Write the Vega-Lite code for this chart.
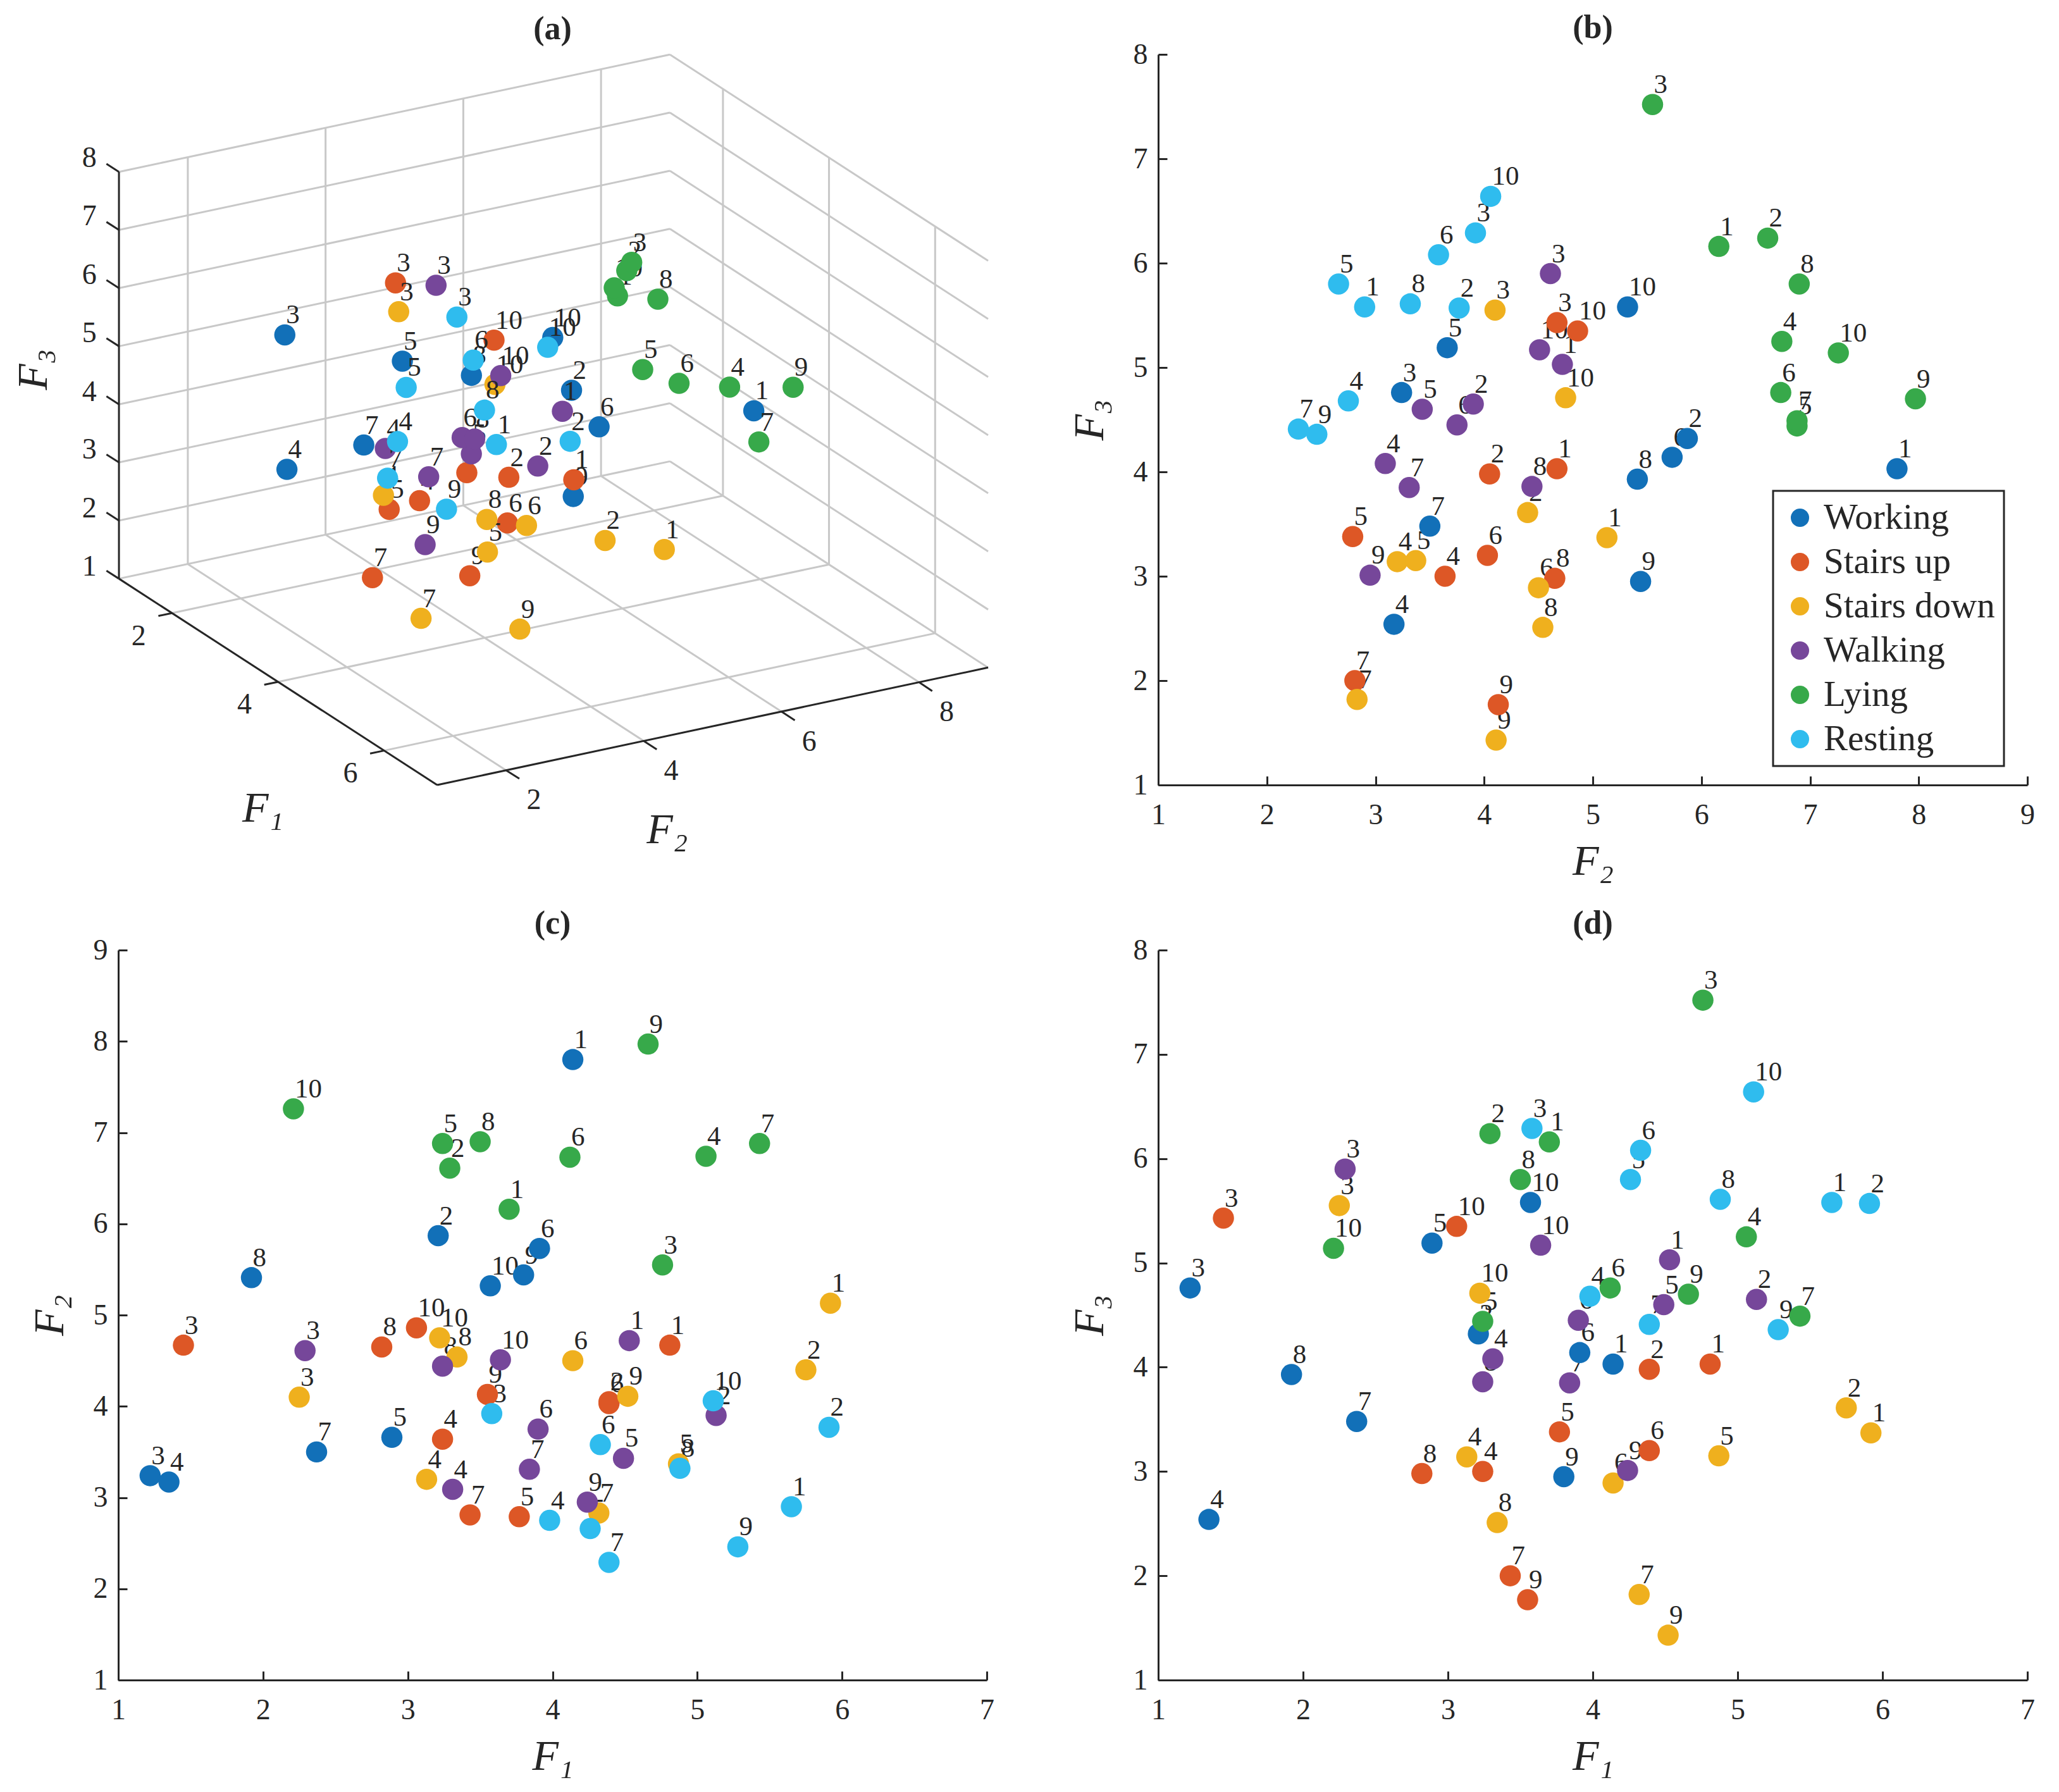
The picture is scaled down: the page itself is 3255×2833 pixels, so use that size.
{"$schema":"https://vega.github.io/schema/vega-lite/v6.json","background":"white","padding":{"left":19,"top":18,"right":0,"bottom":0},
"config":{"font":"Liberation Serif","view":{"stroke":null},"legend":{"strokeWidth":3},"title":{"anchor":"middle","fontSize":52,"fontWeight":"bold","color":"#262626","offset":-8,"font":"Liberation Serif"},
"axis":{"grid":false,"domainColor":"#262626","tickColor":"#262626","domainWidth":3,"tickWidth":3,"tickSize":-14,"labelColor":"#262626","titleColor":"#262626","labelFont":"Liberation Serif","titleFont":"Liberation Serif","labelFontSize":46,"titleFontSize":68,"titleFontStyle":"italic","titleFontWeight":"normal","labelFlush":false,"labelOverlap":false},
"axisX":{"labelPadding":39,"titlePadding":17,"labelAngle":0},"axisY":{"labelPadding":31,"titlePadding":34},
"text":{"font":"Liberation Serif","color":"#262626"}},
"datasets":{"pts":[
{"a":"Working","n":1,"F1":4.14,"F2":7.80,"F3":4.03,"u":1146.6,"v":717.0},{"a":"Working","n":2,"F1":3.21,"F2":5.87,"F3":4.32,"u":869.4,"v":681.2},{"a":"Working","n":3,"F1":1.22,"F2":3.24,"F3":4.76,"u":433.3,"v":584.5},{"a":"Working","n":4,"F1":1.35,"F2":3.17,"F3":2.54,"u":436.5,"v":819.2},{"a":"Working","n":5,"F1":2.89,"F2":3.66,"F3":5.19,"u":612.1,"v":630.3},{"a":"Working","n":6,"F1":3.91,"F2":5.73,"F3":4.14,"u":911.3,"v":745.0},{"a":"Working","n":7,"F1":2.37,"F2":3.50,"F3":3.48,"u":553.4,"v":776.7},{"a":"Working","n":8,"F1":1.92,"F2":5.41,"F3":3.93,"u":717.1,"v":655.1},{"a":"Working","n":9,"F1":3.80,"F2":5.44,"F3":2.95,"u":872.0,"v":866.5},{"a":"Working","n":10,"F1":3.57,"F2":5.32,"F3":5.58,"u":840.8,"v":589.1},
{"a":"Stairs up","n":1,"F1":4.81,"F2":4.67,"F3":4.03,"u":872.8,"v":837.3},{"a":"Stairs up","n":2,"F1":4.39,"F2":4.05,"F3":3.98,"u":774.0,"v":833.0},{"a":"Stairs up","n":3,"F1":1.45,"F2":4.67,"F3":5.43,"u":601.7,"v":493.7},{"a":"Stairs up","n":4,"F1":3.24,"F2":3.64,"F3":3.00,"u":638.2,"v":873.9},{"a":"Stairs up","n":5,"F1":3.77,"F2":2.79,"F3":3.38,"u":592.0,"v":889.0},{"a":"Stairs up","n":6,"F1":4.39,"F2":4.03,"F3":3.20,"u":771.9,"v":912.7},{"a":"Stairs up","n":7,"F1":3.43,"F2":2.81,"F3":2.00,"u":566.6,"v":1008.1},{"a":"Stairs up","n":8,"F1":2.82,"F2":4.65,"F3":2.98,"u":710.1,"v":825.0},{"a":"Stairs up","n":9,"F1":3.55,"F2":4.13,"F3":1.77,"u":714.6,"v":1004.8},{"a":"Stairs up","n":10,"F1":3.06,"F2":4.86,"F3":5.35,"u":751.5,"v":593.6},
{"a":"Stairs down","n":1,"F1":5.92,"F2":5.13,"F3":3.37,"u":1010.5,"v":959.1},{"a":"Stairs down","n":2,"F1":5.75,"F2":4.40,"F3":3.61,"u":920.4,"v":943.3},{"a":"Stairs down","n":3,"F1":2.25,"F2":4.10,"F3":5.55,"u":606.5,"v":544.1},{"a":"Stairs down","n":4,"F1":3.13,"F2":3.20,"F3":3.14,"u":583.3,"v":864.4},{"a":"Stairs down","n":5,"F1":4.87,"F2":3.37,"F3":3.15,"u":741.5,"v":963.4},{"a":"Stairs down","n":6,"F1":4.14,"F2":4.50,"F3":2.89,"u":800.9,"v":917.1},{"a":"Stairs down","n":7,"F1":4.32,"F2":2.83,"F3":1.82,"u":640.5,"v":1079.2},{"a":"Stairs down","n":8,"F1":3.34,"F2":4.54,"F3":2.51,"u":740.6,"v":906.6},{"a":"Stairs down","n":9,"F1":4.52,"F2":4.11,"F3":1.43,"u":790.8,"v":1098.0},{"a":"Stairs down","n":10,"F1":3.22,"F2":4.75,"F3":4.71,"u":752.9,"v":670.9},
{"a":"Walking","n":1,"F1":4.53,"F2":4.72,"F3":5.03,"u":855.5,"v":717.8},{"a":"Walking","n":2,"F1":5.13,"F2":3.90,"F3":4.65,"u":818.0,"v":813.4},{"a":"Walking","n":3,"F1":2.29,"F2":4.61,"F3":5.90,"u":663.3,"v":498.0},{"a":"Walking","n":4,"F1":3.31,"F2":3.09,"F3":4.08,"u":586.2,"v":782.7},{"a":"Walking","n":5,"F1":4.49,"F2":3.43,"F3":4.60,"u":717.0,"v":792.1},{"a":"Walking","n":6,"F1":3.90,"F2":3.75,"F3":4.45,"u":703.0,"v":763.7},{"a":"Walking","n":7,"F1":3.84,"F2":3.31,"F3":3.85,"u":652.1,"v":832.2},{"a":"Walking","n":8,"F1":3.24,"F2":4.44,"F3":3.86,"u":722.0,"v":766.2},{"a":"Walking","n":9,"F1":4.24,"F2":2.95,"F3":3.01,"u":646.7,"v":950.6},{"a":"Walking","n":10,"F1":3.64,"F2":4.51,"F3":5.17,"u":761.7,"v":655.5},
{"a":"Lying","n":1,"F1":3.70,"F2":6.16,"F3":6.16,"u":939.3,"v":516.5},{"a":"Lying","n":2,"F1":3.29,"F2":6.61,"F3":6.24,"u":953.4,"v":472.3},{"a":"Lying","n":3,"F1":4.76,"F2":5.55,"F3":7.52,"u":960.9,"v":457.8},{"a":"Lying","n":4,"F1":5.06,"F2":6.74,"F3":5.25,"u":1109.8,"v":675.6},{"a":"Lying","n":5,"F1":3.24,"F2":6.88,"F3":4.44,"u":977.6,"v":645.0},{"a":"Lying","n":6,"F1":4.12,"F2":6.73,"F3":4.76,"u":1032.9,"v":669.1},{"a":"Lying","n":7,"F1":5.43,"F2":6.88,"F3":4.49,"u":1154.3,"v":771.3},{"a":"Lying","n":8,"F1":3.50,"F2":6.90,"F3":5.80,"u":1000.7,"v":522.1},{"a":"Lying","n":9,"F1":4.66,"F2":7.97,"F3":4.70,"u":1206.4,"v":675.9},{"a":"Lying","n":10,"F1":2.21,"F2":7.26,"F3":5.14,"u":934.3,"v":502.4},
{"a":"Resting","n":1,"F1":5.65,"F2":2.90,"F3":5.58,"u":755.1,"v":775.9},{"a":"Resting","n":2,"F1":5.91,"F2":3.77,"F3":5.57,"u":867.3,"v":770.2},{"a":"Resting","n":3,"F1":3.58,"F2":3.92,"F3":6.29,"u":695.0,"v":553.4},{"a":"Resting","n":4,"F1":3.98,"F2":2.75,"F3":4.68,"u":604.7,"v":770.7},{"a":"Resting","n":5,"F1":4.26,"F2":2.66,"F3":5.80,"u":617.9,"v":676.2},{"a":"Resting","n":6,"F1":4.33,"F2":3.58,"F3":6.08,"u":719.9,"v":628.5},{"a":"Resting","n":7,"F1":4.39,"F2":2.29,"F3":4.41,"u":589.6,"v":834.5},{"a":"Resting","n":8,"F1":4.88,"F2":3.32,"F3":5.61,"u":737.0,"v":715.8},{"a":"Resting","n":9,"F1":5.28,"F2":2.46,"F3":4.36,"u":679.2,"v":888.6},{"a":"Resting","n":10,"F1":5.11,"F2":4.06,"F3":6.64,"u":833.1,"v":606.2}
],
"grid":[
{"u":261.7,"v":1070,"u2":1099.7,"v2":865.2},{"u":423,"v":1190,"u2":1261,"v2":985.2},{"u":584.4,"v":1310,"u2":1422.4,"v2":1105.2},
{"u":285.75,"v":984.4,"u2":769.8,"v2":1344.4},{"u":495.25,"v":933.2,"u2":979.3,"v2":1293.2},{"u":704.75,"v":882,"u2":1188.8,"v2":1242},{"u":914.25,"v":830.8,"u2":1398.3,"v2":1190.8},
{"u":181,"v":1010,"u2":1019,"v2":805.2},{"u":1019,"v":805.2,"u2":1503,"v2":1165.2},
{"u":285.75,"v":984.4,"u2":285.75,"v2":274.4},{"u":495.25,"v":933.2,"u2":495.25,"v2":223.2},{"u":704.75,"v":882,"u2":704.75,"v2":172},{"u":914.25,"v":830.8,"u2":914.25,"v2":120.8},
{"u":1099.7,"v":865.2,"u2":1099.7,"v2":155.2},{"u":1261,"v":985.2,"u2":1261,"v2":275.2},{"u":1422.4,"v":1105.2,"u2":1422.4,"v2":395.2},
{"u":181,"v":908.6,"u2":1019,"v2":703.8},{"u":1019,"v":703.8,"u2":1503,"v2":1063.8},
{"u":181,"v":807.1,"u2":1019,"v2":602.3},{"u":1019,"v":602.3,"u2":1503,"v2":962.3},
{"u":181,"v":705.7,"u2":1019,"v2":500.9},{"u":1019,"v":500.9,"u2":1503,"v2":860.9},
{"u":181,"v":604.3,"u2":1019,"v2":399.5},{"u":1019,"v":399.5,"u2":1503,"v2":759.5},
{"u":181,"v":502.9,"u2":1019,"v2":298.1},{"u":1019,"v":298.1,"u2":1503,"v2":658.1},
{"u":181,"v":401.4,"u2":1019,"v2":196.6},{"u":1019,"v":196.6,"u2":1503,"v2":556.6},
{"u":181,"v":300,"u2":1019,"v2":95.2},{"u":1019,"v":95.2,"u2":1503,"v2":455.2}
],
"axes":[
{"u":181,"v":1010,"u2":181,"v2":300},{"u":181,"v":1010,"u2":665,"v2":1370},{"u":665,"v":1370,"u2":1503,"v2":1165},
{"u":181,"v":1010,"u2":162,"v2":996},{"u":181,"v":908.6,"u2":162,"v2":894.6},{"u":181,"v":807.1,"u2":162,"v2":793.1},{"u":181,"v":705.7,"u2":162,"v2":691.7},{"u":181,"v":604.3,"u2":162,"v2":590.3},{"u":181,"v":502.9,"u2":162,"v2":488.9},{"u":181,"v":401.4,"u2":162,"v2":387.4},{"u":181,"v":300,"u2":162,"v2":286},
{"u":261.7,"v":1070,"u2":241,"v2":1075},{"u":423,"v":1190,"u2":402,"v2":1195},{"u":584.4,"v":1310,"u2":563,"v2":1315},
{"u":769.8,"v":1344.4,"u2":790,"v2":1359},{"u":979.3,"v":1293.2,"u2":999,"v2":1308},{"u":1188.8,"v":1242,"u2":1209,"v2":1257},{"u":1398.3,"v":1190.8,"u2":1418,"v2":1206}
],
"ticks":[
{"t":"1","u":136,"v":989},{"t":"2","u":136,"v":888},{"t":"3","u":136,"v":785},{"t":"4","u":136,"v":684},{"t":"5","u":136,"v":582},{"t":"6","u":136,"v":480},{"t":"7","u":136,"v":378},{"t":"8","u":136,"v":276},
{"t":"2","u":211,"v":1111},{"t":"4","u":372,"v":1230},{"t":"6","u":533,"v":1350},
{"t":"2","u":812,"v":1396},{"t":"4","u":1021,"v":1346},{"t":"6","u":1231,"v":1295},{"t":"8","u":1440,"v":1243}
],
"titles":[{"t":"F₁","u":400,"v":1412},{"t":"F₂","u":1015,"v":1450}],
"titley":[{"t":"F₃","u":52,"v":645}]
},
"columns":2,"spacing":{"row":261,"column":271},"bounds":"flush",
"concat":[
{"width":1373,"height":1155,"title":{"text":"(a)","offset":12},"encoding":{"x":{"field":"u","type":"quantitative","scale":{"domain":[180,1501],"nice":false,"zero":false},"axis":null},"y":{"field":"v","type":"quantitative","scale":{"domain":[1370,95],"nice":false,"zero":false},"axis":null}},
"layer":[
{"data":{"name":"grid"},"mark":{"type":"rule","color":"#c8c8c8","strokeWidth":3},"encoding":{"x2":{"field":"u2"},"y2":{"field":"v2"}}},
{"data":{"name":"axes"},"mark":{"type":"rule","color":"#262626","strokeWidth":3},"encoding":{"x2":{"field":"u2"},"y2":{"field":"v2"}}},
{"data":{"name":"ticks"},"mark":{"type":"text","fontSize":46,"align":"center","baseline":"middle"},"encoding":{"text":{"field":"t"}}},
{"data":{"name":"titles"},"mark":{"type":"text","fontSize":68,"fontStyle":"italic","align":"center","baseline":"middle"},"encoding":{"text":{"field":"t"}}},
{"data":{"name":"titley"},"mark":{"type":"text","fontSize":68,"fontStyle":"italic","align":"center","baseline":"middle","angle":270},"encoding":{"text":{"field":"t"}}},
{"data":{"name":"pts"},"transform":[{"filter":{"field":"a","equal":"Working"}}],"mark":{"type":"text","fontSize":43,"align":"left","baseline":"alphabetic","dx":2,"dy":-18},"encoding":{"text":{"field":"n"}}},
{"data":{"name":"pts"},"transform":[{"filter":{"field":"a","equal":"Working"}}],"mark":{"type":"point","filled":true,"opacity":1,"size":1122,"color":"#1270B8"}},
{"data":{"name":"pts"},"transform":[{"filter":{"field":"a","equal":"Stairs up"}}],"mark":{"type":"text","fontSize":43,"align":"left","baseline":"alphabetic","dx":2,"dy":-18},"encoding":{"text":{"field":"n"}}},
{"data":{"name":"pts"},"transform":[{"filter":{"field":"a","equal":"Stairs up"}}],"mark":{"type":"point","filled":true,"opacity":1,"size":1122,"color":"#DD5726"}},
{"data":{"name":"pts"},"transform":[{"filter":{"field":"a","equal":"Stairs down"}}],"mark":{"type":"text","fontSize":43,"align":"left","baseline":"alphabetic","dx":2,"dy":-18},"encoding":{"text":{"field":"n"}}},
{"data":{"name":"pts"},"transform":[{"filter":{"field":"a","equal":"Stairs down"}}],"mark":{"type":"point","filled":true,"opacity":1,"size":1122,"color":"#EFB01E"}},
{"data":{"name":"pts"},"transform":[{"filter":{"field":"a","equal":"Walking"}}],"mark":{"type":"text","fontSize":43,"align":"left","baseline":"alphabetic","dx":2,"dy":-18},"encoding":{"text":{"field":"n"}}},
{"data":{"name":"pts"},"transform":[{"filter":{"field":"a","equal":"Walking"}}],"mark":{"type":"point","filled":true,"opacity":1,"size":1122,"color":"#76479A"}},
{"data":{"name":"pts"},"transform":[{"filter":{"field":"a","equal":"Lying"}}],"mark":{"type":"text","fontSize":43,"align":"left","baseline":"alphabetic","dx":2,"dy":-18},"encoding":{"text":{"field":"n"}}},
{"data":{"name":"pts"},"transform":[{"filter":{"field":"a","equal":"Lying"}}],"mark":{"type":"point","filled":true,"opacity":1,"size":1122,"color":"#37A94A"}},
{"data":{"name":"pts"},"transform":[{"filter":{"field":"a","equal":"Resting"}}],"mark":{"type":"text","fontSize":43,"align":"left","baseline":"alphabetic","dx":2,"dy":-18},"encoding":{"text":{"field":"n"}}},
{"data":{"name":"pts"},"transform":[{"filter":{"field":"a","equal":"Resting"}}],"mark":{"type":"point","filled":true,"opacity":1,"size":1122,"color":"#2FBCEE"}}
]},
{"width":1374,"height":1155,"title":"(b)","data":{"name":"pts"},"encoding":{"x":{"field":"F2","type":"quantitative","scale":{"domain":[1,9],"nice":false,"zero":false},"axis":{"values":[1,2,3,4,5,6,7,8,9],"title":"F₂"}},"y":{"field":"F3","type":"quantitative","scale":{"domain":[1,8],"nice":false,"zero":false},"axis":{"values":[1,2,3,4,5,6,7,8],"title":"F₃"}}},
"layer":[
{"mark":{"type":"text","fontSize":43,"align":"left","baseline":"alphabetic","dx":2,"dy":-18},"encoding":{"text":{"field":"n"}}},
{"mark":{"type":"point","filled":true,"opacity":1,"size":1122},"encoding":{"color":{"field":"a","type":"nominal","scale":{"domain":["Working","Stairs up","Stairs down","Walking","Lying","Resting"],"range":["#1270B8","#DD5726","#EFB01E","#76479A","#37A94A","#2FBCEE"]},"legend":{"orient":"none","legendX":2616,"legendY":690,"title":null,"symbolType":"circle","symbolSize":841,"symbolStrokeWidth":0,"symbolOpacity":1,"labelFontSize":57,"labelFont":"Liberation Serif","labelColor":"#262626","rowPadding":12,"padding":14,"symbolOffset":0,"labelOffset":9,"strokeColor":"#262626","fillColor":"white","labelLimit":400,"labelExpr":"datum.label + '\u00a0'"}}}}
]},
{"width":1373,"height":1154,"title":"(c)","data":{"name":"pts"},"encoding":{"x":{"field":"F1","type":"quantitative","scale":{"domain":[1,7],"nice":false,"zero":false},"axis":{"values":[1,2,3,4,5,6,7],"title":"F₁"}},"y":{"field":"F2","type":"quantitative","scale":{"domain":[1,9],"nice":false,"zero":false},"axis":{"values":[1,2,3,4,5,6,7,8,9],"title":"F₂"}}},
"layer":[
{"mark":{"type":"text","fontSize":43,"align":"left","baseline":"alphabetic","dx":2,"dy":-18},"encoding":{"text":{"field":"n"}}},
{"mark":{"type":"point","filled":true,"opacity":1,"size":1122},"encoding":{"color":{"field":"a","type":"nominal","scale":{"domain":["Working","Stairs up","Stairs down","Walking","Lying","Resting"],"range":["#1270B8","#DD5726","#EFB01E","#76479A","#37A94A","#2FBCEE"]},"legend":null}}}
]},
{"width":1374,"height":1154,"title":"(d)","data":{"name":"pts"},"encoding":{"x":{"field":"F1","type":"quantitative","scale":{"domain":[1,7],"nice":false,"zero":false},"axis":{"values":[1,2,3,4,5,6,7],"title":"F₁"}},"y":{"field":"F3","type":"quantitative","scale":{"domain":[1,8],"nice":false,"zero":false},"axis":{"values":[1,2,3,4,5,6,7,8],"title":"F₃"}}},
"layer":[
{"mark":{"type":"text","fontSize":43,"align":"left","baseline":"alphabetic","dx":2,"dy":-18},"encoding":{"text":{"field":"n"}}},
{"mark":{"type":"point","filled":true,"opacity":1,"size":1122},"encoding":{"color":{"field":"a","type":"nominal","scale":{"domain":["Working","Stairs up","Stairs down","Walking","Lying","Resting"],"range":["#1270B8","#DD5726","#EFB01E","#76479A","#37A94A","#2FBCEE"]},"legend":null}}}
]}
]}
